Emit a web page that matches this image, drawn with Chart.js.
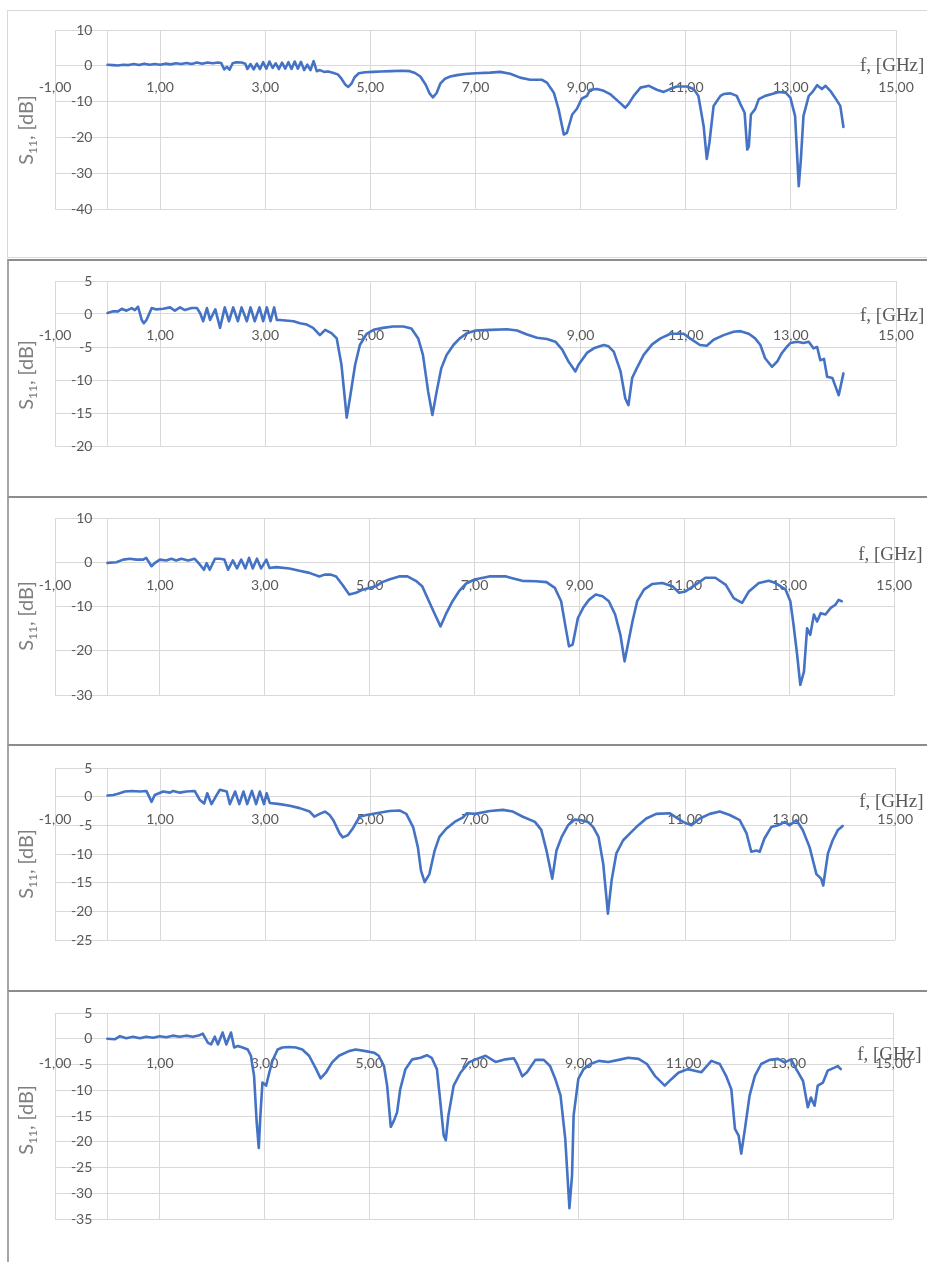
<!DOCTYPE html>
<html>
<head>
<meta charset="utf-8">
<script src="https://cdn.jsdelivr.net/npm/chart.js@4.4.1/dist/chart.umd.min.js"></script>
<style>
  html, body { margin: 0; padding: 0; background: #ffffff; }
  body { width: 927px; height: 1262px; position: relative; overflow: hidden; }
  .panel { position: absolute; box-sizing: border-box; }
  canvas { position: absolute; left: 0; }
</style>
</head>
<body>
<script>
// ---------------- DATA ----------------
const xTicks = [-1, 1, 3, 5, 7, 9, 11, 13, 15];

const yTicks1 = [10, 0, -10, -20, -30, -40];
const yTicks2 = [5, 0, -5, -10, -15, -20];
const yTicks3 = [10, 0, -10, -20, -30];
const yTicks4 = [5, 0, -5, -10, -15, -20, -25];
const yTicks5 = [5, 0, -5, -10, -15, -20, -25, -30, -35];

const f1 = [0.00,0.10,0.20,0.30,0.40,0.50,0.60,0.70,0.80,0.90,1.00,1.10,1.20,1.30,1.40,1.50,1.60,1.70,1.80,1.90,2.00,2.10,2.16,2.22,2.27,2.32,2.38,2.45,2.55,2.62,2.66,2.72,2.78,2.84,2.90,2.96,3.02,3.08,3.14,3.20,3.26,3.32,3.38,3.44,3.50,3.56,3.62,3.68,3.74,3.80,3.86,3.92,3.98,4.04,4.12,4.20,4.30,4.38,4.45,4.52,4.58,4.64,4.70,4.78,4.90,5.05,5.20,5.40,5.60,5.75,5.85,5.95,6.05,6.13,6.19,6.26,6.33,6.42,6.52,6.65,6.80,7.00,7.28,7.47,7.66,7.85,8.04,8.26,8.36,8.49,8.58,8.68,8.74,8.84,8.93,9.02,9.12,9.18,9.31,9.44,9.56,9.76,9.85,9.91,10.01,10.14,10.30,10.45,10.58,10.70,10.83,11.02,11.15,11.24,11.34,11.40,11.45,11.53,11.66,11.72,11.85,11.97,12.04,12.12,12.17,12.20,12.24,12.32,12.39,12.51,12.64,12.77,12.90,12.99,13.08,13.15,13.19,13.24,13.34,13.40,13.50,13.59,13.66,13.75,13.84,13.94,14.00];
const s1 = [0.3,0.2,0.1,0.3,0.2,0.5,0.2,0.6,0.3,0.5,0.3,0.6,0.4,0.7,0.5,0.8,0.5,0.9,0.6,0.9,0.7,0.9,0.8,-1.0,-0.3,-1.1,0.7,1.0,0.9,0.6,-0.9,0.5,-1.0,0.6,-0.9,1.0,-0.8,1.2,-0.6,0.7,-0.9,0.9,-0.8,1.0,-0.9,1.2,-0.8,1.1,-1.2,0.3,-1.2,1.3,-1.5,-1.2,-1.7,-1.6,-2.0,-2.4,-3.6,-5.2,-5.9,-5.0,-3.2,-2.1,-1.8,-1.7,-1.6,-1.5,-1.4,-1.5,-2.0,-3.0,-5.2,-7.8,-8.8,-7.6,-5.0,-3.6,-3.0,-2.6,-2.3,-2.1,-1.9,-1.7,-2.2,-3.3,-3.9,-3.9,-4.7,-7.5,-12.1,-19.2,-18.7,-13.6,-12.0,-9.2,-8.4,-6.7,-6.5,-7.0,-7.9,-10.5,-11.7,-10.7,-8.4,-6.1,-5.6,-6.7,-7.3,-6.5,-5.8,-5.8,-6.5,-8.4,-16.8,-26.0,-21.5,-11.2,-8.4,-7.9,-7.7,-8.4,-10.7,-13.1,-23.4,-22.5,-13.6,-12.1,-9.3,-8.4,-7.9,-7.3,-7.5,-8.9,-14.0,-33.6,-26.2,-14.0,-8.4,-7.5,-5.4,-6.5,-5.6,-7.0,-8.9,-11.2,-17.1];

const f2 = [0.00,0.11,0.20,0.27,0.36,0.46,0.52,0.58,0.65,0.69,0.74,0.84,0.93,1.06,1.19,1.28,1.38,1.47,1.60,1.70,1.76,1.82,1.89,1.95,2.05,2.14,2.23,2.31,2.39,2.48,2.55,2.65,2.72,2.80,2.89,2.96,3.03,3.10,3.17,3.22,3.28,3.54,3.66,3.79,3.91,4.04,4.14,4.26,4.36,4.45,4.55,4.61,4.71,4.80,4.93,5.06,5.24,5.43,5.63,5.78,5.91,6.00,6.10,6.18,6.26,6.35,6.45,6.58,6.70,6.84,7.00,7.28,7.60,7.79,7.98,8.17,8.36,8.52,8.65,8.77,8.90,8.96,9.12,9.25,9.44,9.53,9.63,9.76,9.85,9.91,9.98,10.07,10.20,10.36,10.52,10.71,10.96,11.08,11.27,11.40,11.53,11.72,11.91,12.04,12.20,12.32,12.42,12.51,12.64,12.74,12.83,12.93,12.99,13.12,13.24,13.34,13.43,13.50,13.56,13.63,13.69,13.79,13.85,13.91,14.00];
const s2 = [0.15,0.4,0.4,0.8,0.5,0.9,0.6,1.1,-0.9,-1.4,-0.9,0.9,0.7,0.8,1.0,0.5,1.0,0.6,0.9,0.9,0.15,-1.1,0.9,-0.9,0.7,-2.1,1.0,-1.1,1.0,-1.1,1.0,-1.1,1.0,-1.1,1.0,-1.1,1.0,-1.1,1.0,-0.9,-0.9,-1.1,-1.4,-1.6,-2.1,-3.2,-2.4,-2.9,-3.7,-7.7,-15.7,-12.8,-7.7,-4.7,-3.0,-2.4,-2.1,-1.9,-1.9,-2.2,-3.7,-6.2,-11.8,-15.3,-11.8,-8.2,-6.2,-4.7,-3.7,-2.9,-2.5,-2.4,-2.3,-2.5,-3.1,-3.6,-3.8,-4.2,-5.4,-7.2,-8.7,-7.7,-5.9,-5.2,-4.7,-4.9,-5.7,-8.7,-12.8,-13.8,-9.7,-8.2,-6.2,-4.6,-3.7,-3.0,-3.0,-3.7,-4.7,-4.8,-3.9,-3.2,-2.7,-2.6,-3.0,-3.7,-4.7,-6.7,-8.0,-7.2,-5.9,-4.9,-4.4,-4.2,-4.4,-4.2,-5.2,-5.0,-7.0,-6.8,-9.5,-9.7,-11.0,-12.3,-9.0];

const f3 = [0.00,0.17,0.30,0.43,0.55,0.68,0.74,0.84,0.90,1.00,1.12,1.22,1.31,1.41,1.54,1.66,1.76,1.84,1.89,1.95,2.05,2.14,2.23,2.30,2.39,2.47,2.55,2.63,2.70,2.77,2.85,2.93,3.03,3.09,3.22,3.47,3.66,3.85,4.04,4.14,4.26,4.36,4.48,4.61,4.74,4.87,4.99,5.12,5.24,5.37,5.56,5.72,5.88,6.00,6.13,6.26,6.35,6.45,6.58,6.70,6.84,7.00,7.28,7.60,7.72,7.91,8.17,8.37,8.53,8.65,8.74,8.80,8.87,8.97,9.07,9.18,9.31,9.44,9.56,9.68,9.78,9.86,9.91,10.01,10.10,10.23,10.39,10.58,10.77,10.90,11.02,11.21,11.40,11.59,11.79,11.94,12.10,12.23,12.42,12.61,12.74,12.93,13.02,13.08,13.15,13.21,13.28,13.34,13.40,13.47,13.53,13.60,13.69,13.79,13.88,13.94,14.00];
const s3 = [-0.15,0.0,0.6,0.8,0.6,0.6,1.0,-0.9,-0.2,0.6,0.4,0.8,0.4,0.8,0.4,0.8,-0.5,-1.7,-0.2,-1.7,0.8,0.8,0.6,-1.7,0.4,-1.4,0.6,-1.4,1.0,-1.4,0.8,-1.4,0.6,-1.3,-1.1,-1.4,-1.9,-2.4,-3.2,-2.8,-2.8,-3.2,-5.1,-7.3,-6.9,-6.2,-5.8,-5.4,-4.5,-3.9,-3.2,-3.2,-4.2,-5.4,-8.8,-12.2,-14.5,-11.8,-8.8,-6.6,-4.8,-3.9,-3.2,-3.2,-3.6,-4.2,-4.3,-4.5,-5.8,-8.8,-15.0,-19.0,-18.6,-12.6,-10.3,-8.5,-7.3,-7.7,-8.8,-11.8,-16.4,-22.4,-19.4,-13.4,-8.8,-6.2,-4.9,-4.7,-5.4,-6.9,-6.6,-5.1,-3.5,-3.5,-5.1,-8.1,-9.2,-6.6,-4.7,-4.2,-4.7,-6.2,-8.8,-14.0,-20.9,-27.7,-24.7,-14.9,-16.4,-11.8,-13.4,-11.5,-11.8,-10.3,-9.6,-8.5,-8.8];

const f4 = [0.00,0.11,0.20,0.33,0.46,0.62,0.74,0.84,0.90,1.06,1.19,1.25,1.38,1.50,1.66,1.76,1.84,1.90,1.98,2.08,2.14,2.27,2.33,2.43,2.51,2.59,2.66,2.75,2.83,2.90,2.98,3.03,3.09,3.28,3.47,3.66,3.85,3.94,4.04,4.14,4.23,4.30,4.42,4.48,4.58,4.68,4.80,4.93,5.12,5.37,5.56,5.69,5.82,5.91,5.97,6.04,6.13,6.23,6.32,6.45,6.61,6.77,6.84,7.00,7.28,7.53,7.72,7.91,8.14,8.26,8.36,8.47,8.55,8.65,8.77,8.90,9.02,9.15,9.25,9.35,9.44,9.53,9.60,9.69,9.82,9.95,10.07,10.26,10.45,10.71,10.96,11.12,11.28,11.47,11.66,11.85,12.04,12.17,12.26,12.36,12.42,12.51,12.64,12.77,12.90,12.99,13.12,13.24,13.37,13.50,13.59,13.63,13.72,13.81,13.91,14.00];
const s4 = [0.2,0.3,0.5,0.9,1.0,0.9,1.0,-0.9,0.3,0.9,0.7,1.0,0.7,0.9,1.0,-0.6,-1.2,0.6,-1.3,0.3,1.2,0.9,-1.3,0.9,-1.3,0.9,-1.3,1.0,-1.3,0.9,-1.3,0.6,-1.1,-1.3,-1.6,-2.0,-2.6,-3.5,-3.0,-2.6,-3.2,-4.1,-6.4,-7.1,-6.7,-5.4,-3.5,-3.2,-2.9,-2.5,-2.4,-3.0,-5.3,-8.8,-12.9,-14.9,-13.5,-9.4,-7.0,-5.6,-4.4,-3.6,-2.9,-3.0,-2.5,-2.3,-2.6,-3.5,-4.4,-5.8,-9.4,-14.3,-9.4,-7.0,-5.0,-4.0,-4.1,-4.4,-5.3,-7.0,-11.7,-20.4,-14.6,-9.9,-7.6,-6.4,-5.3,-3.8,-3.0,-2.9,-4.4,-5.0,-3.8,-3.0,-2.6,-3.2,-4.1,-6.4,-9.6,-9.4,-9.6,-7.3,-5.3,-5.0,-4.4,-5.0,-4.1,-5.8,-8.8,-13.5,-14.3,-15.5,-9.9,-7.6,-5.8,-5.1];

const f5 = [0.00,0.14,0.24,0.36,0.49,0.62,0.74,0.87,1.00,1.12,1.25,1.38,1.50,1.63,1.76,1.82,1.92,1.98,2.05,2.11,2.20,2.27,2.36,2.42,2.49,2.58,2.68,2.74,2.80,2.85,2.89,2.92,2.96,3.03,3.09,3.15,3.25,3.34,3.47,3.60,3.72,3.85,3.98,4.07,4.17,4.29,4.42,4.61,4.74,4.93,5.09,5.18,5.28,5.34,5.41,5.47,5.53,5.59,5.69,5.82,5.98,6.10,6.19,6.29,6.35,6.42,6.46,6.51,6.61,6.74,6.90,7.03,7.22,7.41,7.60,7.76,7.82,7.92,8.01,8.17,8.33,8.45,8.55,8.65,8.74,8.82,8.87,8.90,8.99,9.09,9.22,9.38,9.56,9.76,9.94,10.14,10.30,10.45,10.64,10.77,10.90,11.08,11.21,11.34,11.53,11.69,11.81,11.91,11.98,12.05,12.10,12.17,12.26,12.36,12.48,12.64,12.80,12.93,13.05,13.15,13.28,13.37,13.43,13.50,13.56,13.66,13.75,13.88,13.94,14.00];
const s5 = [0.0,-0.1,0.5,0.1,0.4,0.1,0.4,0.2,0.5,0.3,0.6,0.4,0.6,0.4,0.7,1.0,-0.8,-1.1,0.4,-1.1,1.2,-1.1,1.2,-1.7,-1.4,-1.7,-2.1,-3.3,-7.2,-16.2,-21.2,-15.0,-8.5,-9.1,-6.6,-4.3,-2.1,-1.7,-1.6,-1.7,-2.1,-3.3,-5.8,-7.7,-6.6,-4.6,-3.3,-2.4,-2.1,-2.4,-2.7,-3.3,-5.3,-9.1,-17.1,-15.9,-14.3,-9.8,-5.9,-4.0,-3.7,-3.2,-3.7,-5.9,-11.7,-18.8,-19.7,-14.9,-9.1,-6.6,-4.6,-4.0,-3.3,-4.5,-4.0,-3.8,-4.9,-7.3,-6.5,-4.1,-4.1,-5.3,-7.8,-11.0,-19.4,-32.9,-26.5,-14.9,-7.8,-5.9,-4.9,-4.3,-4.5,-4.1,-3.7,-3.9,-4.9,-7.2,-9.1,-7.8,-6.6,-5.9,-6.2,-6.5,-4.3,-4.9,-7.2,-9.8,-17.5,-18.8,-22.3,-17.5,-11.0,-7.2,-4.9,-4.1,-3.9,-4.6,-4.0,-5.9,-8.2,-13.3,-11.4,-13.0,-9.1,-8.5,-6.2,-5.6,-5.3,-5.9];

// ---------------- LAYOUT (page pixels) ----------------
const panels = [
  { f: f1, s: s1, ticks: yTicks1, top: 10,  bottom: 258,  plotTop: 30,   plotBottom: 209,  xPad: 13, fDy: 0,  titleY: 130 },
  { f: f2, s: s2, ticks: yTicks2, top: 259, bottom: 496,  plotTop: 281,  plotBottom: 446,  xPad: 13, fDy: 2,  titleY: 375 },
  { f: f3, s: s3, ticks: yTicks3, top: 496, bottom: 744,  plotTop: 518,  plotBottom: 695,  xPad: 15, fDy: -7, titleY: 616 },
  { f: f4, s: s4, ticks: yTicks4, top: 744, bottom: 990,  plotTop: 768,  plotBottom: 940,  xPad: 14, fDy: 5,  titleY: 864 },
  { f: f5, s: s5, ticks: yTicks5, top: 990, bottom: 1262, plotTop: 1013, plotBottom: 1219, xPad: 16, fDy: 16, titleY: 1120 }
];
const PLOT_LEFT = 55, PLOT_RIGHT = 896, W = 927;
const GRID = '#d9d9d9';
const TICK_COLOR = '#595959';
const LINE = '#4472C4';

// panel frames
panels.forEach((p, i) => {
  const d = document.createElement('div');
  d.className = 'panel';
  d.style.left = '7px';
  d.style.top = p.top + 'px';
  d.style.width = '960px';
  d.style.height = (p.bottom - p.top) + 'px';
  if (i === 0) {
    d.style.border = '1px solid #d9d9d9';
  } else {
    d.style.borderTop = '2px solid #8c8c8c';
    d.style.borderLeft = '2px solid #a6a6a6';
  }
  document.body.appendChild(d);
});

const extraText = {
  id: 'extraText',
  afterDraw(chart, args, opts) {
    const { ctx, scales } = chart;
    const y0 = scales.y.getPixelForValue(0);
    ctx.save();
    // x axis title
    ctx.font = '19px "Liberation Serif", "Times New Roman", serif';
    ctx.fillStyle = '#595959';
    ctx.textAlign = 'left';
    ctx.textBaseline = 'middle';
    ctx.fillText('f, [GHz]', scales.x.right - 36, y0 + opts.fDy);
    // y axis title with subscript
    const big = '20px Lato, "Open Sans", sans-serif';
    const small = '12px Lato, "Open Sans", sans-serif';
    ctx.font = big; const wS = ctx.measureText('S').width;
    const wRest = ctx.measureText(', [dB]').width;
    ctx.font = small; const wSub = ctx.measureText('11').width;
    const total = wS + wSub + wRest;
    ctx.translate(26, opts.titleY);
    ctx.rotate(-Math.PI / 2);
    ctx.fillStyle = '#7f7f7f';
    ctx.textAlign = 'left';
    ctx.textBaseline = 'alphabetic';
    let x = -total / 2;
    const base = 7;
    ctx.font = big; ctx.fillText('S', x, base); x += wS;
    ctx.font = small; ctx.fillText('11', x, base + 4); x += wSub;
    ctx.font = big; ctx.fillText(', [dB]', x, base);
    ctx.restore();
  }
};

panels.forEach((p) => {
  const c = document.createElement('canvas');
  const h = p.bottom - p.top;
  c.width = W; c.height = h;
  c.style.top = p.top + 'px';
  c.style.width = W + 'px'; c.style.height = h + 'px';
  document.body.appendChild(c);

  const pts = p.f.map((fx, k) => ({ x: fx, y: p.s[k] }));
  const yMin = Math.min(...p.ticks), yMax = Math.max(...p.ticks);
  const tickFont = { family: 'Lato, "Open Sans", sans-serif', size: 14 };

  new Chart(c, {
    type: 'line',
    data: {
      datasets: [{
        data: pts,
        borderColor: LINE,
        borderWidth: 2.6,
        pointRadius: 0,
        tension: 0,
        borderJoinStyle: 'round',
        borderCapStyle: 'round',
        fill: false,
        xAxisID: 'x',
        yAxisID: 'y'
      }]
    },
    options: {
      responsive: false,
      animation: false,
      devicePixelRatio: 1,
      layout: { padding: { left: PLOT_LEFT, right: W - PLOT_RIGHT, top: p.plotTop - p.top, bottom: p.bottom - p.plotBottom } },
      plugins: {
        legend: { display: false },
        tooltip: { enabled: false },
        extraText: { fDy: p.fDy, titleY: p.titleY - p.top }
      },
      scales: {
        x: {
          type: 'linear',
          min: xTicks[0], max: xTicks[xTicks.length - 1],
          position: { y: 0 },
          afterFit: (s) => { s.height = 0; },
          afterBuildTicks: (s) => { s.ticks = xTicks.map(v => ({ value: v })); },
          grid: { color: GRID, lineWidth: 1, drawTicks: false },
          border: { display: true, color: GRID, width: 1 },
          ticks: {
            autoSkip: false, maxRotation: 0, minRotation: 0,
            padding: p.xPad, color: TICK_COLOR, font: tickFont,
            callback: (v) => Number(v).toFixed(2).replace('.', ',')
          }
        },
        y: {
          type: 'linear',
          min: yMin, max: yMax,
          position: { x: -0.287 },
          afterFit: (s) => { s.width = 0; },
          afterBuildTicks: (s) => { s.ticks = p.ticks.map(v => ({ value: v })); },
          grid: { color: GRID, lineWidth: 1, drawTicks: false },
          border: { display: false },
          ticks: { autoSkip: false, color: TICK_COLOR, font: tickFont, callback: (v) => String(v) }
        },
        yl: {
          axis: 'y',
          type: 'linear',
          min: yMin, max: yMax,
          position: { x: 0 },
          afterFit: (s) => { s.width = 0; },
          grid: { display: false, drawTicks: false },
          border: { display: true, color: GRID, width: 1 },
          ticks: { display: false }
        }
      }
    },
    plugins: [extraText]
  });
});
</script>
</body>
</html>
